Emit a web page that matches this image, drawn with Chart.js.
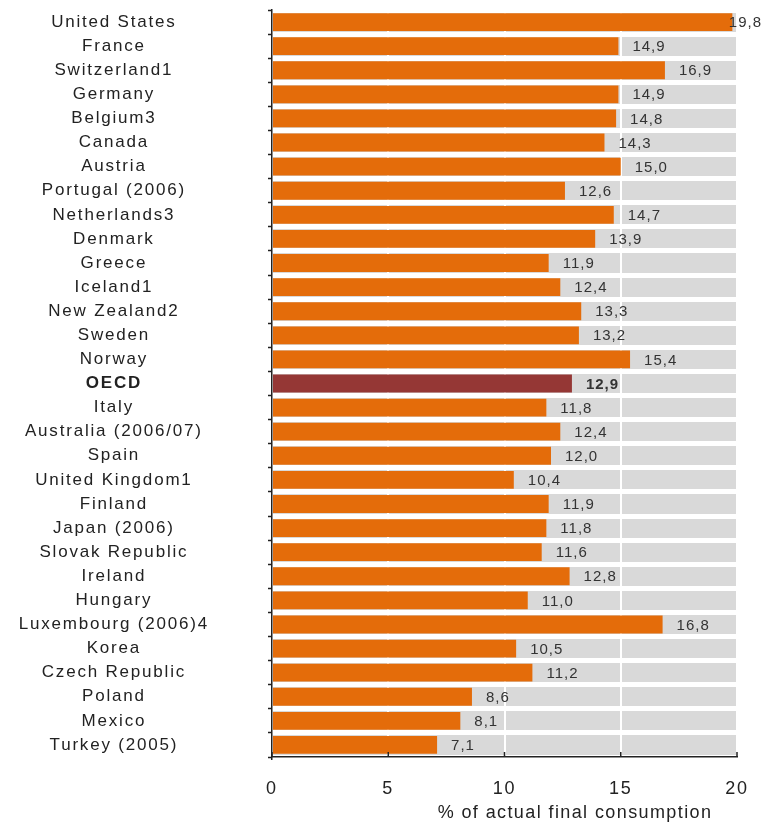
<!DOCTYPE html>
<html>
<head>
<meta charset="utf-8">
<script src="https://cdn.jsdelivr.net/npm/chart.js@4.4.1/dist/chart.umd.min.js"></script>
<style>
  html, body { margin: 0; padding: 0; background: #fff; }
  #wrap { width: 762px; height: 823px; position: relative; }
</style>
</head>
<body>
<div id="wrap"><canvas id="graph_consumption"></canvas></div>
<script>
const countries = ['United States', 'France', 'Switzerland1', 'Germany', 'Belgium3', 'Canada', 'Austria',
	'Portugal (2006)', 'Netherlands3', 'Denmark', 'Greece', 'Iceland1', 'New Zealand2', 'Sweden', 'Norway',
	'OECD', 'Italy', 'Australia (2006/07)', 'Spain', 'United Kingdom1', 'Finland', 'Japan (2006)',
	'Slovak Republic', 'Ireland', 'Hungary', 'Luxembourg (2006)4', 'Korea', 'Czech Republic', 'Poland',
	'Mexico', 'Turkey (2005)'];
const shares = [19.8, 14.9, 16.9, 14.9, 14.8, 14.3, 15.0, 12.6, 14.7, 13.9, 11.9, 12.4, 13.3, 13.2, 15.4,
	12.9, 11.8, 12.4, 12.0, 10.4, 11.9, 11.8, 11.6, 12.8, 11.0, 16.8, 10.5, 11.2, 8.6, 8.1, 7.1];
const xTickValues = [0, 5, 10, 15, 20];
const highlight = 'OECD';
const axisTitle = '% of actual final consumption';

const ORANGE = '#e46c0a';
const DARK_RED = '#953735';
const TEXT = '#222';

// canvas letter spacing gets reset whenever the canvas is resized, so set it again before layout and draw
const spacing = {
	id: 'spacing',
	beforeUpdate(chart) { chart.ctx.letterSpacing = '1.8px'; },
	beforeDraw(chart) { chart.ctx.letterSpacing = '1.8px'; }
};

// grey plot background
const plotBg = {
	id: 'plotBg',
	beforeDraw(chart) {
		const { ctx, chartArea: a } = chart;
		ctx.save();
		ctx.fillStyle = '#d9d9d9';
		ctx.fillRect(a.left, a.top, a.right - a.left, a.bottom - a.top);
		ctx.restore();
	}
};

// value labels, inward ticks on the x axis and the axis title
const extras = {
	id: 'extras',
	afterDatasetsDraw(chart) {
		const { ctx, chartArea: a } = chart;
		const meta = chart.getDatasetMeta(0);
		ctx.save();
		ctx.letterSpacing = '1px';
		ctx.fillStyle = '#333';
		ctx.textBaseline = 'middle';
		ctx.textAlign = 'left';
		meta.data.forEach((bar, i) => {
			const txt = shares[i].toFixed(1).replace('.', ',');
			ctx.font = (countries[i] === highlight ? 'bold ' : '') + '15px "Liberation Sans", Arial, sans-serif';
			const w = ctx.measureText(txt).width;
			const x = Math.min(bar.x + 14, chart.width - w);
			ctx.fillText(txt, x, bar.y + 1);
		});

		// small ticks pointing up from the bottom axis
		const xs = chart.scales.x;
		ctx.strokeStyle = TEXT;
		ctx.lineWidth = 1.5;
		xTickValues.forEach(v => {
			const px = xs.getPixelForValue(v);
			ctx.beginPath();
			ctx.moveTo(px, a.bottom);
			ctx.lineTo(px, a.bottom - 5);
			ctx.stroke();
		});

		ctx.letterSpacing = '1.4px';
		ctx.fillStyle = TEXT;
		ctx.font = '18px "Liberation Sans", Arial, sans-serif';
		ctx.textAlign = 'center';
		ctx.textBaseline = 'alphabetic';
		ctx.fillText(axisTitle, a.right - 162, 818);
		ctx.restore();
	}
};

const ctx = document.getElementById('graph_consumption');
const chart = new Chart(ctx, {
	type: 'bar',
	data: {
		labels: countries,
		datasets: [{
			data: shares,
			backgroundColor: countries.map(c => c === highlight ? DARK_RED : ORANGE),
			borderWidth: 0,
			barPercentage: 0.74,
			categoryPercentage: 1
		}]
	},
	options: {
		indexAxis: 'y',
		responsive: true,
		maintainAspectRatio: false,
		animation: false,
		devicePixelRatio: 1,
		layout: { padding: { left: 17, right: 25, top: 10, bottom: 23 } },
		plugins: {
			legend: { display: false },
			tooltip: { enabled: false }
		},
		scales: {
			x: {
				min: 0,
				max: 20,
				afterBuildTicks: s => { s.ticks = xTickValues.map(v => ({ value: v })); },
				afterFit: s => { s.height = 43; s.paddingLeft = 0; s.paddingRight = 0; },
				grid: { color: '#fff', lineWidth: 2, drawTicks: false },
				border: { color: TEXT, width: 1.5 },
				ticks: {
					padding: 21,
					color: TEXT,
					font: { family: '"Liberation Sans", Arial, sans-serif', size: 18 }
				}
			},
			y: {
				// fixed label column; the big tick padding only centres the labels, so drop it from top/bottom
				afterFit: s => { s.width = 255; s.paddingTop = 0; s.paddingBottom = 0; },
				grid: {
					color: '#fff', lineWidth: 5,
					drawTicks: true, tickLength: 4, tickColor: TEXT, tickWidth: 1.5
				},
				border: { color: TEXT, width: 1.5 },
				ticks: {
					crossAlign: 'center',
					padding: 59,
					color: TEXT,
					autoSkip: false,
					font: c => ({
						family: '"Liberation Sans", Arial, sans-serif',
						size: 17,
						weight: countries[c.index] === highlight ? 'bold' : 'normal'
					})
				}
			}
		}
	},
	plugins: [spacing, plotBg, extras]
});
</script>
</body>
</html>
